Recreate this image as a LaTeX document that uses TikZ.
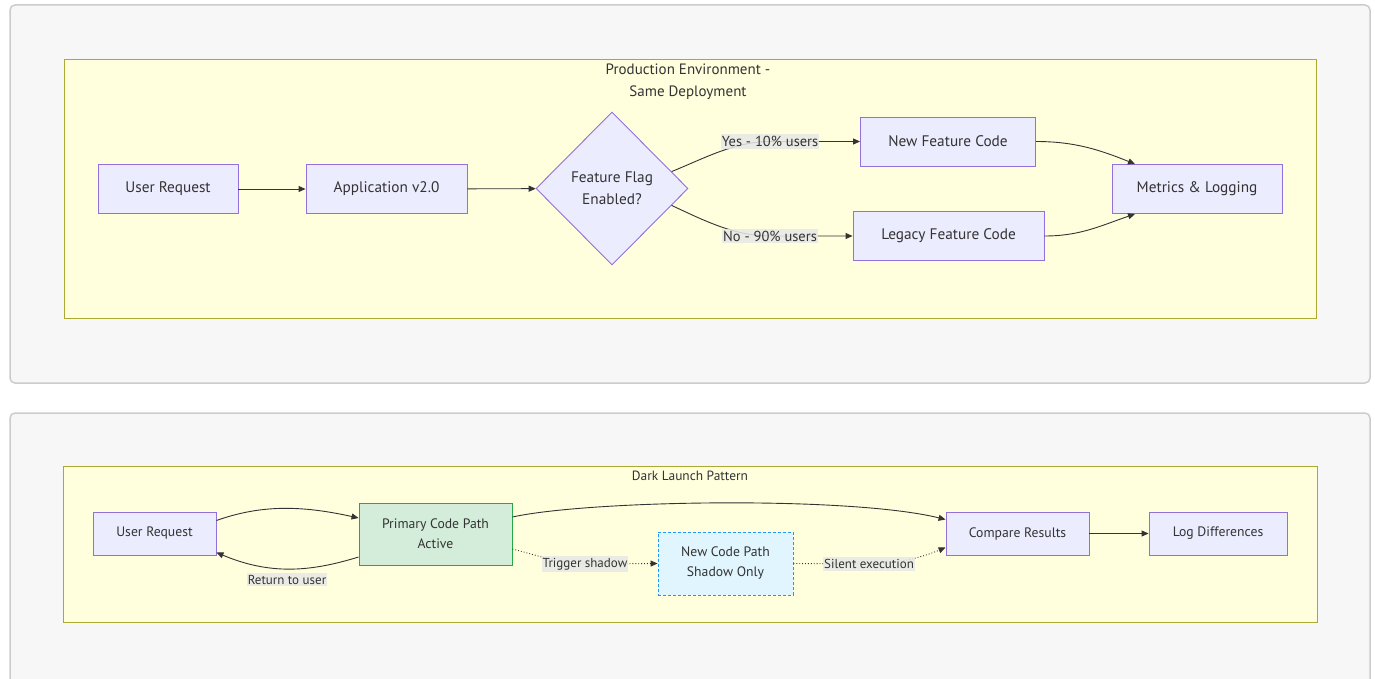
\documentclass[tikz,border=0pt]{standalone}
\usepackage{fontspec}
\setmainfont{PT Sans}
\usetikzlibrary{shapes.geometric,arrows.meta,calc}
\definecolor{outerfill}{HTML}{F7F7F7}
\definecolor{outerdraw}{HTML}{CCCCCC}
\definecolor{clfill}{HTML}{FFFFDE}
\definecolor{cldraw}{HTML}{AAAA33}
\definecolor{nfill}{HTML}{ECECFF}
\definecolor{ndraw}{HTML}{9370DB}
\definecolor{gfill}{HTML}{D4EDDA}
\definecolor{gdraw}{HTML}{28A745}
\definecolor{bfill}{HTML}{E1F5FE}
\definecolor{bdraw}{HTML}{2196F3}
\definecolor{edgec}{HTML}{333333}
\definecolor{lblbg}{HTML}{E8E8E8}
\tikzset{
  outerbox/.style={draw=outerdraw, fill=outerfill, line width=1.5pt, rounded corners=5pt},
  clusterbox/.style={draw=cldraw, fill=clfill, line width=0.8pt},
  cltitle/.style={font=\fontsize{15}{22}\selectfont, align=center, text=edgec},
  proc/.style={draw=ndraw, fill=nfill, line width=0.9pt, rectangle, inner sep=0pt, align=center, font=\fontsize{15.3}{21}\selectfont, text=edgec},
  procs/.style={proc, font=\fontsize{13.7}{20}\selectfont},
  greenbox/.style={procs, draw=gdraw, fill=gfill},
  bluebox/.style={procs, draw=bdraw, fill=bfill, dashed, dash pattern=on 3pt off 2pt},
  decision/.style={diamond, draw=ndraw, fill=nfill, line width=0.9pt, inner sep=0pt, minimum width=152pt, minimum height=153pt, align=center, font=\fontsize{15.3}{22}\selectfont, text=edgec},
  edge/.style={draw=edgec, line width=0.9pt, -{Triangle[length=7pt,width=6pt]}},
  dotedge/.style={edge, dotted},
  elabel/.style={fill=lblbg, fill opacity=0.85, text opacity=1, inner xsep=1pt, inner ysep=2pt, font=\fontsize{14.5}{17}\selectfont, text=edgec},
  elabels/.style={elabel, font=\fontsize{13}{15}\selectfont},
}
\begin{document}
\begin{tikzpicture}[x=1pt, y=-1pt]
\useasboundingbox (0,0) rectangle (1375,679);
\clip (0,0) rectangle (1375,679);
% ---------- top panel ----------
\draw[outerbox] (10,5) rectangle (1370,383);
\draw[clusterbox] (64,59) rectangle (1316,318);
\node[cltitle] (t1) at (688,82) {Production Environment -\\Same Deployment};

\node[proc, minimum width=140pt, minimum height=49pt] (ur) at (168,189) {User Request};
\node[proc, minimum width=161pt, minimum height=49pt] (app) at (386.5,189) {Application v2.0};
\node[decision] (dia) at (612,188.5) {Feature Flag\\Enabled?};
\node[proc, minimum width=175pt, minimum height=49pt] (nf) at (948,141.5) {New Feature Code};
\node[proc, minimum width=191pt, minimum height=49pt] (lf) at (948.5,236) {Legacy Feature Code};
\node[proc, minimum width=170pt, minimum height=49pt] (ml) at (1197,189) {Metrics \& Logging};

\coordinate (yl) at (770,141.5);
\coordinate (nl) at (770,236);
\draw[edge] (ur) -- (app);
\draw[edge] (app) -- (dia);
\draw[edge] ($(dia.east)!0.22!(dia.north)$) .. controls (705,158) and (735,141.5) .. (yl) -- (nf.west);
\draw[edge] ($(dia.east)!0.22!(dia.south)$) .. controls (705,221) and (735,236) .. (nl) -- (lf.west);
\draw[edge] (nf.east) .. controls (1075,141.5) and (1100,150) .. ([xshift=-62pt]ml.north);
\draw[edge] (lf.east) .. controls (1080,236) and (1100,226) .. ([xshift=-62pt]ml.south);
\node[elabel] (ylab) at (yl) {Yes - 10\% users};
\node[elabel] (nlab) at (nl) {No - 90\% users};

% ---------- bottom panel ----------
\draw[outerbox] (10,413) rectangle (1370,700);
\draw[clusterbox] (63,466) rectangle (1317,622);
\node[cltitle, font=\fontsize{13.4}{15}\selectfont] (t2) at (690,476) {Dark Launch Pattern};

\node[procs, minimum width=123pt, minimum height=43pt] (ur2) at (154.5,533.5) {User Request};
\node[greenbox, minimum width=153pt, minimum height=62pt] (pc) at (435.5,534) {Primary Code Path\\Active};
\node[bluebox, minimum width=135pt, minimum height=63pt] (nc) at (725.5,563.5) {New Code Path\\Shadow Only};
\node[procs, minimum width=143pt, minimum height=43pt] (cr) at (1017.5,533.5) {Compare Results};
\node[procs, minimum width=138pt, minimum height=43pt] (ld) at (1218,533.5) {Log Differences};

\coordinate (ts) at (585,564);
\coordinate (se) at (869,564);
\draw[edge] ([yshift=13pt]ur2.east) .. controls (260,505) and (300,505) .. ([yshift=16pt]pc.west);
\draw[edge] ([yshift=-23pt]pc.west) .. controls (310,572) and (270,575) .. ([yshift=-19pt]ur2.east);
\draw[edge] ([yshift=17pt]pc.east) .. controls (590,500) and (850,496) .. ([yshift=14pt]cr.west);
\draw[dotedge] ([yshift=-15pt]pc.east) .. controls (540,556) and (560,564) .. (ts) -- (nc.west);
\draw[dotedge] (nc.east) -- (se) .. controls (900,564) and (925,556) .. ([yshift=-14pt]cr.west);
\draw[edge] (cr) -- (ld);
\node[elabels] (rlab) at (287,579.5) {Return to user};
\node[elabels] (tlab) at (ts) {Trigger shadow};
\node[elabels] (slab) at (se) {Silent execution};
\end{tikzpicture}
\end{document}
